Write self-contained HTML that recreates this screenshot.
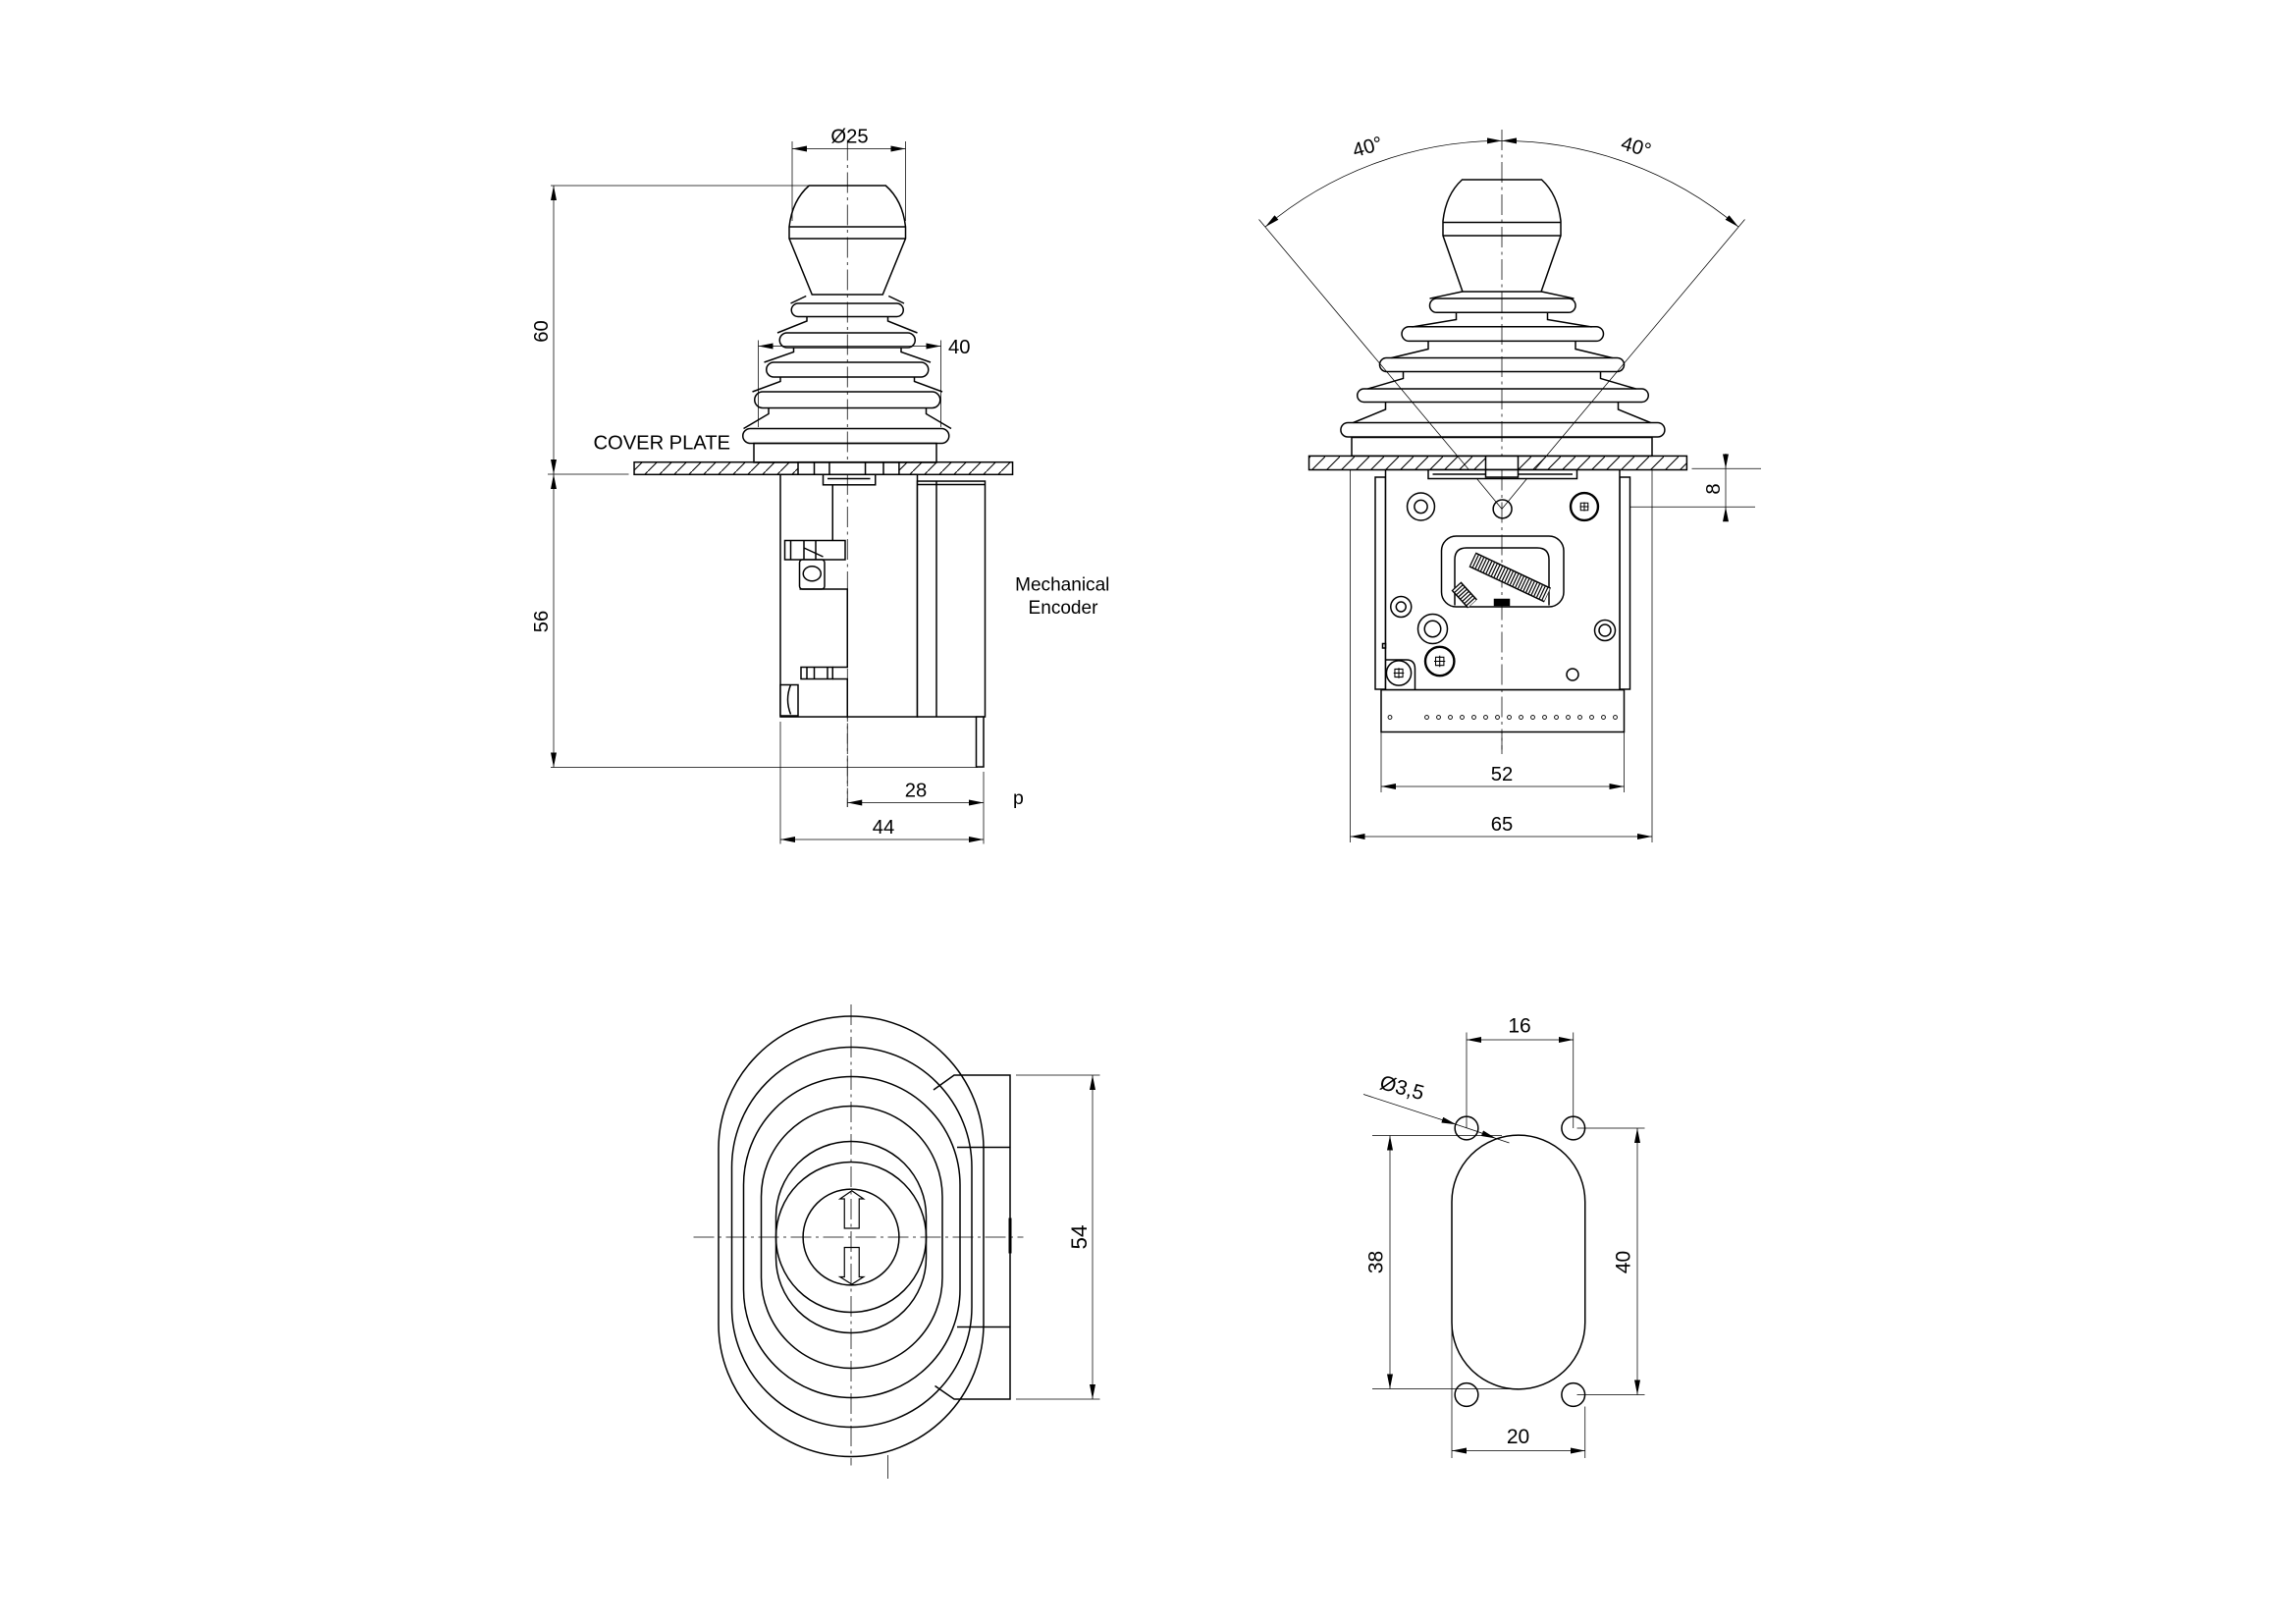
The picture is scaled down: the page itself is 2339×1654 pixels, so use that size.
<!DOCTYPE html>
<html><head><meta charset="utf-8"><style>
html,body{margin:0;padding:0;background:#fff}
svg{display:block}
text{font-family:"Liberation Sans",sans-serif;fill:#000}
</style></head><body>
<svg width="2339" height="1654" viewBox="0 0 1559.33 1102.67" xmlns="http://www.w3.org/2000/svg">
<defs>
<marker id="a" markerUnits="userSpaceOnUse" markerWidth="10" markerHeight="4" refX="10" refY="2" orient="auto-start-reverse" viewBox="0 0 10 4"><path d="M0,0 L10,2 L0,4 z" fill="#000"/></marker>
<pattern id="h" patternUnits="userSpaceOnUse" width="10" height="10"><path d="M-1,11 L11,-1" stroke="#000" stroke-width="0.7"/></pattern>
</defs>
<rect width="1559.33" height="1102.67" fill="#fff"/>

<!-- ================= SIDE VIEW ================= -->
<g fill="none" stroke="#000" stroke-width="0.5">
 <line x1="575.5" y1="95" x2="575.5" y2="548" stroke-dasharray="14 3 2 3"/>
 <line x1="538" y1="96" x2="538" y2="150"/><line x1="615" y1="96" x2="615" y2="150"/>
 <line x1="538" y1="101" x2="615" y2="101" marker-start="url(#a)" marker-end="url(#a)"/>
 <line x1="374" y1="126" x2="552" y2="126"/>
 <line x1="376" y1="126" x2="376" y2="322" marker-start="url(#a)" marker-end="url(#a)"/>
 <line x1="376" y1="322" x2="376" y2="521" marker-start="url(#a)" marker-end="url(#a)"/>
 <line x1="372" y1="322" x2="427" y2="322"/>
 <line x1="374" y1="521" x2="664" y2="521"/>
 <line x1="515" y1="231" x2="515" y2="290"/><line x1="639" y1="231" x2="639" y2="290"/>
 <line x1="515" y1="235" x2="639" y2="235" marker-start="url(#a)" marker-end="url(#a)"/>
 <line x1="530" y1="490" x2="530" y2="573"/><line x1="668" y1="524" x2="668" y2="573"/>
 <line x1="575.5" y1="545" x2="668" y2="545" marker-start="url(#a)" marker-end="url(#a)"/>
 <line x1="530" y1="570" x2="668" y2="570" marker-start="url(#a)" marker-end="url(#a)"/>
</g>
<g fill="none" stroke="#000" stroke-width="1">
 <rect x="430.7" y="313.8" width="257" height="8.4" fill="url(#h)"/>
 <rect x="542" y="313.8" width="68.6" height="8.4" fill="#fff"/>
 <path d="M553,313.8V322.2M563.3,313.8V322.2M587.7,313.8V322.2M600,313.8V322.2"/>
 <rect x="512" y="301" width="124" height="13"/>
 <path d="M547.5,201 L537,206 M603.5,201 L614,206" />
 <path d="M548,215 V218 L528,226 M603,215 V218 L623,226 M539,236 V239 L519,246 M612,236 V239 L632,246 M530,256 V259 L511,266 M621,256 V259 L640,266 M522,277 V281 L505,291 M629,277 V281 L646,291"/>
 <rect x="537.5" y="206" width="76" height="9" rx="4.5"/>
 <rect x="529.5" y="226" width="92" height="10" rx="5"/>
 <rect x="520.5" y="246" width="110" height="10" rx="5"/>
 <rect x="512.5" y="266" width="126" height="11" rx="5.5"/>
 <rect x="504.5" y="291" width="140" height="10" rx="5"/>
 <path d="M549.5,126 L601.5,126 Q613,136 615,154 L615,162 L599.5,200 L551.5,200 L536,162 L536,154 Q538,136 549.5,126 Z"/>
 <line x1="536" y1="154" x2="615" y2="154"/><line x1="536" y1="162" x2="615" y2="162"/>
</g>
<g fill="#fff" stroke="#000" stroke-width="1">
 <rect x="530" y="322.2" width="93" height="164.5"/>
 <rect x="559" y="322.2" width="35.5" height="7"/>
 <line x1="562" y1="325" x2="591" y2="325"/>
 <rect x="623" y="326.7" width="46" height="160"/>
 <line x1="623" y1="329" x2="669" y2="329"/>
 <line x1="636" y1="326.7" x2="636" y2="486.7"/>
 <rect x="663" y="486.7" width="5" height="34"/>
 <line x1="565.5" y1="329" x2="565.5" y2="367"/>
 <rect x="533" y="367" width="41" height="13"/>
 <path d="M537,367V380M546,367V380M554,367V380M546,372L559,378" fill="none"/>
 <rect x="543" y="380" width="17" height="20" rx="2"/>
 <ellipse cx="551.5" cy="389.5" rx="6" ry="5"/>
 <path d="M543,400 L575.5,400 L575.5,453 L565.5,453 M565.5,461 L575.5,461 L575.5,486.7" fill="none"/>
 <rect x="544" y="453" width="21.5" height="8"/>
 <path d="M548,453V461M553,453V461M562,453V461" fill="none"/>
 <rect x="530" y="465" width="12" height="21"/>
 <path d="M537,465 Q533,475 537,485" fill="none"/>
</g>
<line x1="575.5" y1="322" x2="575.5" y2="548" stroke="#000" stroke-width="0.5" stroke-dasharray="14 3 2 3"/>
<text x="577" y="97" font-size="13.5" text-anchor="middle">Ø25</text>
<text x="644" y="240" font-size="13.5">40</text>
<text x="403" y="305" font-size="13.5" textLength="93">COVER PLATE</text>
<text transform="translate(372,225) rotate(-90)" font-size="13.5" text-anchor="middle">60</text>
<text transform="translate(372,422) rotate(-90)" font-size="13.5" text-anchor="middle">56</text>
<text x="622" y="541" font-size="13.5" text-anchor="middle">28</text>
<text x="600" y="566" font-size="13.5" text-anchor="middle">44</text>
<text x="688" y="546" font-size="13">p</text>
<text x="721.5" y="401" font-size="12.7" text-anchor="middle">Mechanical</text>
<text x="722" y="416.7" font-size="12.7" text-anchor="middle">Encoder</text>

<!-- ================= FRONT VIEW ================= -->
<g fill="none" stroke="#000" stroke-width="0.5">
 <line x1="1020" y1="88" x2="1020" y2="512" stroke-dasharray="14 3 2 3"/>
 <path d="M1020,95.6 A250,250 0 0 0 859.3,154.1" marker-start="url(#a)" marker-end="url(#a)"/>
 <path d="M1020,95.6 A250,250 0 0 1 1180.7,154.1" marker-start="url(#a)" marker-end="url(#a)"/>
 <line x1="1020" y1="345.6" x2="855" y2="149"/>
 <line x1="1020" y1="345.6" x2="1185" y2="149"/>
 <line x1="1149" y1="318.2" x2="1196" y2="318.2"/>
 <line x1="1086" y1="344.2" x2="1192" y2="344.2"/>
 <line x1="1172" y1="308" x2="1172" y2="318.2" marker-end="url(#a)"/>
 <line x1="1172" y1="354" x2="1172" y2="344.2" marker-end="url(#a)"/>
 <line x1="1172" y1="318.2" x2="1172" y2="344.2"/>
 <line x1="938" y1="497" x2="938" y2="538"/><line x1="1103" y1="497" x2="1103" y2="538"/>
 <line x1="938" y1="534" x2="1103" y2="534" marker-start="url(#a)" marker-end="url(#a)"/>
 <line x1="917" y1="319" x2="917" y2="572"/><line x1="1122" y1="319" x2="1122" y2="572"/>
 <line x1="917" y1="568" x2="1122" y2="568" marker-start="url(#a)" marker-end="url(#a)"/>
</g>
<g fill="none" stroke="#000" stroke-width="1">
 <rect x="889" y="309.6" width="256.6" height="9.4" fill="url(#h)"/>
 <rect x="1009" y="309.6" width="22" height="9.4" fill="#fff"/>
 <rect x="918" y="297" width="204" height="12.6"/>
 <path d="M993,198 L971,202.7 M1047,198 L1069,202.7"/>
 <path d="M989,212 V217 L959,222 M1051,212 V217 L1081,222 M970,232 V237 L945,243 M1070,232 V237 L1095,243 M953,252 V257 L929,264 M1087,252 V257 L1111,264 M941,273 V278 L919,287 M1099,273 V278 L1121,287"/>
 <rect x="971" y="202.7" width="99" height="9.5" rx="4.7"/>
 <rect x="952" y="221.8" width="137" height="9.8" rx="4.9"/>
 <rect x="937" y="243" width="166" height="9.3" rx="4.6"/>
 <rect x="921.8" y="264" width="197.7" height="9" rx="4.5"/>
 <rect x="910.6" y="287" width="220" height="9.7" rx="4.8"/>
 <path d="M993,122 L1047,122 Q1058,132 1060,150 L1060,160 L1046.7,198 L993.3,198 L980,160 L980,150 Q982,132 993,122 Z"/>
 <line x1="980" y1="151" x2="1060" y2="151"/><line x1="980" y1="160" x2="1060" y2="160"/>
</g>
<g fill="#fff" stroke="#000" stroke-width="1">
 <rect x="934" y="324" width="7" height="144"/>
 <rect x="1100" y="324" width="7" height="144"/>
 <rect x="941" y="319" width="159" height="149.4"/>
 <rect x="970" y="319" width="101" height="6"/>
 <line x1="973" y1="322" x2="1068" y2="322"/>
 <rect x="1009" y="319" width="22" height="5"/>
 <rect x="938" y="468.4" width="165" height="28.6"/>
</g>
<g fill="none" stroke="#000" stroke-width="1">
 <line x1="1020" y1="319" x2="1020" y2="512" stroke-width="0.5" stroke-dasharray="14 3 2 3"/>
 <line x1="1020" y1="345.6" x2="1003" y2="325" stroke-width="0.5"/><line x1="1020" y1="345.6" x2="1037" y2="325" stroke-width="0.5"/>
 <circle cx="1020.4" cy="345.6" r="6.3"/>
 <circle cx="965" cy="344" r="9.3"/><circle cx="965" cy="344" r="4.4"/>
 <circle cx="1076" cy="344" r="9.3" stroke-width="1.6"/><path d="M1073,344H1079M1076,341V347M1073.5,341.5h5v5h-5z" stroke-width="0.7"/>
 <rect x="979" y="364" width="83" height="48" rx="10"/>
 <path d="M988,411 V380 Q988,372 996,372 H1044 Q1052,372 1052,380 V411" />
 <line x1="1000" y1="380" x2="1051" y2="404" stroke-width="11"/>
 <line x1="1000" y1="380" x2="1051" y2="404" stroke="#fff" stroke-width="9"/>
 <line x1="1000" y1="380" x2="1051" y2="404" stroke-width="9" stroke-dasharray="0.8 1.2"/>
 <line x1="989" y1="398" x2="1000" y2="410" stroke-width="9"/>
 <line x1="989" y1="398" x2="1000" y2="410" stroke="#fff" stroke-width="7"/>
 <line x1="989" y1="398" x2="1000" y2="410" stroke-width="7" stroke-dasharray="0.8 1.2"/>
 <rect x="1015" y="407" width="10" height="4" fill="#000"/>
 <circle cx="951.5" cy="412" r="7"/><circle cx="951.5" cy="412" r="3.3"/>
 <circle cx="973" cy="427" r="10"/><circle cx="973" cy="427" r="5.5"/>
 <circle cx="977.8" cy="449" r="9.8" stroke-width="1.6"/><path d="M974,449H981.5M977.8,445.2V452.8M975,446.2h5.6v5.6h-5.6z" stroke-width="0.7"/>
 <path d="M941,448 H955 Q961,448 961,454 V468"/>
 <circle cx="950" cy="457" r="8.4"/><path d="M946.5,457H953.5M950,453.5V460.5M947.3,454.3h5.4v5.4h-5.4z" stroke-width="0.7"/>
 <circle cx="1090" cy="428" r="7"/><circle cx="1090" cy="428" r="4"/>
 <circle cx="1068" cy="458" r="4"/>
 <rect x="939" y="437" width="2" height="3"/>
</g>
<g fill="none" stroke="#000" stroke-width="0.6">
 <circle cx="944" cy="487" r="1.3"/>
 <circle cx="969" cy="487" r="1.3"/><circle cx="977" cy="487" r="1.3"/><circle cx="985" cy="487" r="1.3"/><circle cx="993" cy="487" r="1.3"/><circle cx="1001" cy="487" r="1.3"/><circle cx="1009" cy="487" r="1.3"/><circle cx="1017" cy="487" r="1.3"/><circle cx="1025" cy="487" r="1.3"/><circle cx="1033" cy="487" r="1.3"/><circle cx="1041" cy="487" r="1.3"/><circle cx="1049" cy="487" r="1.3"/><circle cx="1057" cy="487" r="1.3"/><circle cx="1065" cy="487" r="1.3"/><circle cx="1073" cy="487" r="1.3"/><circle cx="1081" cy="487" r="1.3"/><circle cx="1089" cy="487" r="1.3"/><circle cx="1097" cy="487" r="1.3"/>
</g>
<text transform="translate(930,104) rotate(-16)" font-size="13.5" text-anchor="middle">40°</text>
<text transform="translate(1110,104) rotate(16)" font-size="13.5" text-anchor="middle">40°</text>
<text transform="translate(1168,332) rotate(-90)" font-size="13.5" text-anchor="middle">8</text>
<text x="1020" y="530" font-size="13.5" text-anchor="middle">52</text>
<text x="1020" y="564" font-size="13.5" text-anchor="middle">65</text>

<!-- ================= TOP VIEW ================= -->
<g fill="none" stroke="#000" stroke-width="1">
 <path d="M488,780 A90,90 0 0 1 668,780 L668,899 A90,90 0 0 1 488,899 Z"/>
 <path d="M497,792.5 A81.5,81.5 0 0 1 660,792.5 L660,887.5 A81.5,81.5 0 0 1 497,887.5 Z"/>
 <path d="M505,804.5 A73.5,73.5 0 0 1 652,804.5 L652,875.5 A73.5,73.5 0 0 1 505,875.5 Z"/>
 <path d="M517,812.5 A61.5,61.5 0 0 1 640,812.5 L640,867.5 A61.5,61.5 0 0 1 517,867.5 Z"/>
 <path d="M527,826 A51,51 0 0 1 629,826 L629,854 A51,51 0 0 1 527,854 Z"/>
 <circle cx="578" cy="840" r="51"/>
 <circle cx="578" cy="840" r="32.6"/>
 <path d="M573.5,834 V814 H570.5 L578.5,808.5 L586.5,814 H583.5 V834 Z" stroke-width="0.8"/>
 <path d="M573.5,847 V867 H570.5 L578.5,872 L586.5,867 H583.5 V847 Z" stroke-width="0.8"/>
 <path d="M634,740 L648,730 H686 V950 H648 L635,941"/>
 <path d="M650,779 H686 M650,901 H686"/>
 <line x1="686" y1="827" x2="686" y2="851" stroke-width="2"/>
</g>
<g fill="none" stroke="#000" stroke-width="0.5">
 <line x1="578" y1="682" x2="578" y2="995" stroke-dasharray="14 3 2 3"/>
 <line x1="471" y1="840" x2="695" y2="840" stroke-dasharray="14 3 2 3"/>
 <line x1="603" y1="988" x2="603" y2="1004"/>
 <line x1="690" y1="730" x2="747" y2="730"/><line x1="690" y1="950" x2="747" y2="950"/>
 <line x1="742" y1="730" x2="742" y2="950" marker-start="url(#a)" marker-end="url(#a)"/>
</g>
<text transform="translate(738,840) rotate(-90)" font-size="15" text-anchor="middle">54</text>

<!-- ================= HOLE PATTERN ================= -->
<g fill="none" stroke="#000" stroke-width="1">
 <path d="M986,816 A45,45 0 0 1 1076.5,816 L1076.5,898 A45,45 0 0 1 986,898 Z"/>
 <circle cx="996" cy="766" r="7.9"/><circle cx="1068.5" cy="766" r="7.9"/>
 <circle cx="996" cy="947" r="7.9"/><circle cx="1068.5" cy="947" r="7.9"/>
</g>
<g fill="none" stroke="#000" stroke-width="0.5">
 <line x1="996" y1="701" x2="996" y2="766"/><line x1="1068.5" y1="701" x2="1068.5" y2="766"/>
 <line x1="996" y1="706" x2="1068.5" y2="706" marker-start="url(#a)" marker-end="url(#a)"/>
 <line x1="926" y1="743" x2="989" y2="763.5" marker-end="url(#a)"/>
 <line x1="989" y1="763.5" x2="1004" y2="768.5"/>
 <line x1="1004" y1="768.5" x2="1016" y2="773" marker-end="url(#a)"/>
 <line x1="1016" y1="773" x2="1025" y2="776"/>
 <line x1="932" y1="771" x2="1020" y2="771"/><line x1="932" y1="943" x2="1031" y2="943"/>
 <line x1="944" y1="771" x2="944" y2="943" marker-start="url(#a)" marker-end="url(#a)"/>
 <line x1="1071" y1="766" x2="1117" y2="766"/><line x1="1071" y1="947" x2="1117" y2="947"/>
 <line x1="1112" y1="766" x2="1112" y2="947" marker-start="url(#a)" marker-end="url(#a)"/>
 <line x1="986" y1="900" x2="986" y2="990"/><line x1="1076.5" y1="955" x2="1076.5" y2="990"/>
 <line x1="986" y1="985" x2="1076.5" y2="985" marker-start="url(#a)" marker-end="url(#a)"/>
</g>
<text x="1032" y="701" font-size="14" text-anchor="middle">16</text>
<text transform="translate(951,743) rotate(15)" font-size="14" text-anchor="middle">Ø3,5</text>
<text transform="translate(939,857) rotate(-90)" font-size="14" text-anchor="middle">38</text>
<text transform="translate(1107,857) rotate(-90)" font-size="14" text-anchor="middle">40</text>
<text x="1031" y="980" font-size="14" text-anchor="middle">20</text>
</svg>
</body></html>
